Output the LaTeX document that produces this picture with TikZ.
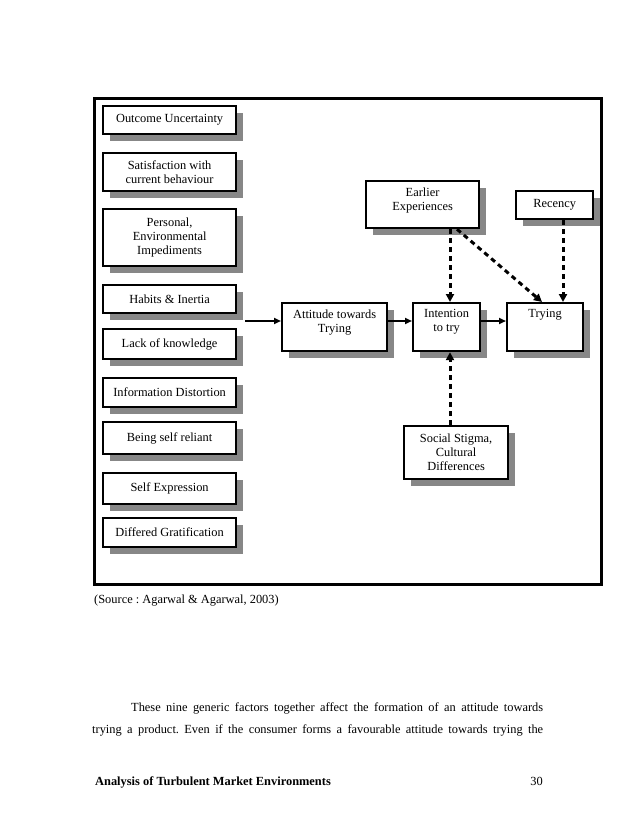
\documentclass[tikz,border=0pt]{standalone}
\usepackage{fontspec}
\setmainfont{Liberation Serif}
\usetikzlibrary{arrows.meta}
\definecolor{shad}{gray}{0.53}
\frenchspacing
\begin{document}
\begin{tikzpicture}[x=1pt,y=-1pt,
 box/.style={draw, line width=2.2pt, fill=white, inner sep=0pt, align=center,
   font=\fontsize{12.4}{14}\selectfont, anchor=north west,
   preaction={fill=shad, draw=none, transform canvas={xshift=7pt,yshift=-7pt}}},
 lbl/.style={inner sep=0pt, align=center, font=\fontsize{12.4}{14}\selectfont, anchor=north},
 arr/.style={line width=1.8pt, -{Triangle[length=7pt,width=6pt]}},
 darr/.style={line width=3pt, dash pattern=on 5pt off 4pt, -{Triangle[length=8pt,width=8pt]}},
 frm/.style={draw, line width=3.2pt, inner sep=0pt, anchor=north west},
 body/.style={inner sep=0pt, anchor=base west, font=\fontsize{12.4}{15}\selectfont}
]
\fill[white] (0,0) rectangle (638,826);
\useasboundingbox (0,0) rectangle (638,826);

\node[frm, minimum width=507pt, minimum height=486pt] (frame) at (93,97) {};

% left column
\node[box, minimum width=133pt, minimum height=28pt] (oc) at (102,105) {Outcome Uncertainty};
\node[box, minimum width=133pt, minimum height=38pt] (sat) at (102,152) {Satisfaction with\\current behaviour};
\node[box, minimum width=133pt, minimum height=57pt] (pers) at (102,208) {Personal,\\Environmental\\Impediments};
\node[box, minimum width=133pt, minimum height=28pt] (hab) at (102,284) {Habits \& Inertia};
\node[box, minimum width=133pt, minimum height=30pt] (lack) at (102,328) {Lack of knowledge};
\node[box, minimum width=133pt, minimum height=29pt] (info) at (102,377) {Information Distortion};
\node[box, minimum width=133pt, minimum height=32pt] (rel) at (102,421) {Being self reliant};
\node[box, minimum width=133pt, minimum height=31pt] (sexp) at (102,472) {Self Expression};
\node[box, minimum width=133pt, minimum height=29pt] (dif) at (102,517) {Differed Gratification};

% right part
\node[box, minimum width=105pt, minimum height=48pt] (att) at (281,302) {};
\node[box, minimum width=67pt, minimum height=48pt] (int) at (412,302) {};
\node[box, minimum width=76pt, minimum height=48pt] (try) at (506,302) {};
\node[lbl] (attT) at ([yshift=-7.5pt]att.north) {Attitude towards\\Trying};
\node[lbl] (intT) at ([yshift=-7.5pt]int.north) {Intention\\to try};
\node[lbl] (tryT) at ([yshift=-7.5pt]try.north) {Trying};

\node[box, minimum width=113pt, minimum height=47pt] (earl) at (365,180) {};
\node[lbl] (earlT) at ([yshift=-7.5pt]earl.north) {Earlier\\Experiences};
\node[box, minimum width=77pt, minimum height=28pt] (rec) at (515,190) {Recency};
\node[box, minimum width=104pt, minimum height=53pt] (soc) at (403,425) {Social Stigma,\\Cultural\\Differences};

% connectors
\coordinate (ay) at (0,321);
\coordinate (start) at (245,321);
\coordinate (vx) at (450,0);
\coordinate (dx1) at (457,0);
\coordinate (dx2) at (542,0);
\coordinate (rx) at (563,0);

\draw[arr] (start) -- (att.west |- ay);
\draw[arr] (att.east |- ay) -- (int.west |- ay);
\draw[arr] (int.east |- ay) -- (try.west |- ay);
\draw[darr] (earl.south -| vx) -- (int.north -| vx);
\draw[darr] (earl.south -| dx1) -- (try.north -| dx2);
\draw[darr] (rec.south -| rx) -- (try.north -| rx);
\draw[darr] (soc.north -| vx) -- (int.south -| vx);

% page text
\node[body] (source) at (94,603) {(Source : Agarwal \& Agarwal, 2003)};
\node[body] (p1) at (131,711) {\makebox[412pt][s]{These nine generic factors together affect the formation of an attitude towards}};
\node[body] (p2) at (92,733) {\makebox[451pt][s]{trying a product. Even if the consumer forms a favourable attitude towards trying the}};
\node[body, font=\fontsize{12.4}{15}\selectfont\bfseries] (foot) at (95,785) {Analysis of Turbulent Market Environments};
\node[body, anchor=base east] (page) at (543,785) {30};
\end{tikzpicture}
\end{document}
